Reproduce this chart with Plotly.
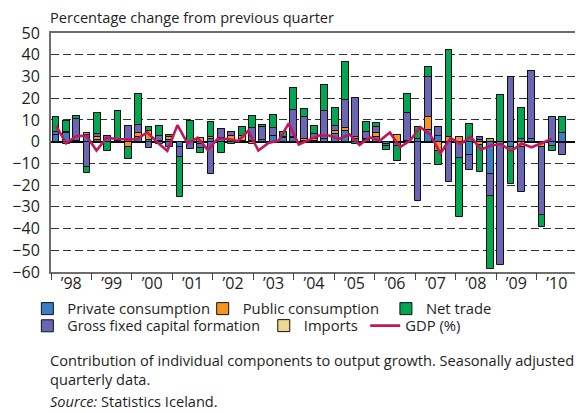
import plotly.graph_objects as go

# ---- data -------------------------------------------------------------
quarters = [f"{y}Q{q}" for y in range(1998, 2011) for q in range(1, 5)][:50]

private = [3.0, 3.8, 0.5, 3.2, 0.8, 0.0, 0.4, 0.0, 2.3, 0.8,
           -1.0, 0.6, -2.3, 0.0, -1.2, 1.0, 0.8, 0.9, 0.5, 0.4,
           0.6, 2.8, 1.7, 1.5, 0.5, 0.5, 1.2, 3.3, 5.0, 1.2,
           0.8, 2.0, -1.2, -0.5, 0.5, 1.2, 5.4, 2.5, 0.0, 0.0,
           -6.2, 0.8, -14.9, 0.0, -2.3, 1.2, 1.2, -0.5, -2.0, 3.8]
public = [0.2, 0.7, 0.0, 0.8, 1.2, 0.0, 0.0, -2.3, 1.5, 4.1,
          0.5, 1.5, 0.0, 0.0, 1.7, 1.3, 1.0, 1.5, 2.3, -1.0,
          -0.3, 0.0, 0.3, 0.5, 0.8, 0.9, -0.8, 1.7, 1.5, 0.8,
          0.4, 2.0, 0.0, 3.2, 0.0, 0.0, 6.1, -4.1, 2.0, 2.3,
          0.0, -1.5, 1.2, 0.0, 0.0, -2.3, 0.0, -2.0, 0.0, -0.8]
gfcf = [1.2, -1.0, 9.9, -11.5, 1.5, 2.4, 0.0, 7.1, 4.0, -2.9,
        2.2, -2.6, -4.7, -3.3, -1.8, -14.9, 4.0, 1.9, 0.0, 5.8,
        6.2, 3.3, 0.3, 12.6, 10.2, 2.0, 13.1, 2.3, 12.6, 18.2,
        3.1, 2.9, -0.7, -1.5, 12.5, -27.2, 18.4, 4.1, -18.7, -7.5,
        -6.8, 1.2, -10.0, -56.7, 29.6, -21.0, 31.5, -31.3, 11.2, -5.3]
net_trade = [6.8, 5.0, 1.4, -3.1, 9.5, -4.1, 13.7, -5.7, 14.1, 1.8,
             4.7, 0.8, -18.6, 9.6, -2.2, 6.8, -5.2, -1.1, 3.8, 5.8,
             1.0, 6.3, 2.0, 10.1, 3.3, 3.8, 11.8, 8.1, 17.4, -1.0,
             4.6, 1.7, -2.0, -6.7, 8.7, 5.7, 4.6, -6.5, 40.2, -27.3,
             8.1, -12.6, -33.7, 21.5, -17.2, 14.3, 0.0, -5.6, -2.2, 7.4]
imports = [0.0, 0.0, 0.0, 0.0, 0.0, 0.0, 0.0, 0.0, 0.0, 0.0,
           0.0, 0.0, 0.0, 0.0, 0.0, 0.0, 0.0, 0.0, 0.0, 0.0,
           0.0, 0.0, 0.0, 0.0, 0.0, 0.0, 0.0, 0.0, 0.0, 0.0,
           0.0, 0.0, 0.0, 0.0, 0.0, 0.0, 0.0, 0.0, 0.0, 0.0,
           0.0, 0.0, 0.0, 0.0, 0.0, 0.0, 0.0, 0.0, 0.0, 0.0]
gdp = [7.4, -0.8, 2.6, 2.7, -4.1, 1.8, 1.2, 1.0, 1.0, 4.3,
       -0.3, -4.2, 7.6, -0.8, 1.8, -3.8, 1.4, 1.2, 0.3, 5.0,
       -4.1, -0.6, 0.5, 8.4, -1.3, 0.8, 2.8, 2.8, 1.2, 3.4,
       -1.6, 2.0, 0.4, 4.2, -2.6, 0.5, 6.7, 3.2, -5.4, 1.7,
       -1.1, 2.3, -3.7, -1.8, -1.1, -4.4, -0.8, -2.6, -0.6, 1.2]

years = list(range(1998, 2011))
year_labels = ["\u201998", "\u201999", "\u201900", "\u201901", "\u201902", "\u201903", "\u201904",
               "\u201905", "\u201906", "\u201907", "\u201908", "\u201909", "\u201910"]

# quarter midpoints on the year scale for the GDP line
gdp_x = [int(q[:4]) + (int(q[-1]) - 0.5) / 4 for q in quarters]

FONT = "Open Sans"
TXT = "#1e1e1e"

fig = go.Figure()

series = [
    ("Private consumption", private, "#3b7dc4", "legend"),
    ("Public consumption", public, "#f7941d", "legend2"),
    ("Gross fixed capital formation", gfcf, "#6b66b3", "legend4"),
    ("Net trade", net_trade, "#00a651", "legend3"),
    ("Imports", imports, "#ecd98f", "legend5"),
]
for name, vals, col, lg in series:
    fig.add_trace(go.Bar(
        x=quarters, y=vals, name=name, marker_color=col,
        marker_line=dict(color="#111111", width=1),
        width=0.66, legend=lg, xaxis="x", yaxis="y",
    ))

fig.add_trace(go.Scatter(
    x=gdp_x, y=gdp, name="GDP (%)", mode="lines",
    line=dict(color="#c2185b", width=2.6), legend="legend6",
    xaxis="x2", yaxis="y",
))

# plot area in window pixels: x 45..579, y 33..272 (page body has an 8px margin)
def legend_at(xpx, ypx, size=14.8):
    return dict(
        orientation="h", x=(xpx - 45) / 534, y=(272 - ypx) / 239,
        xanchor="left", yanchor="middle", bgcolor="rgba(0,0,0,0)",
        font=dict(family=FONT, size=size, color=TXT), borderwidth=0,
        itemclick=False,
    )

fig.update_layout(
    width=575, height=405,
    margin=dict(l=37, r=4, t=25, b=141),
    paper_bgcolor="white", plot_bgcolor="white",
    barmode="relative", bargap=0,
    font=dict(family=FONT, size=15, color=TXT),
    xaxis=dict(
        type="category", range=[-0.476, 50.38], showticklabels=False,
        ticks="", showgrid=False, zeroline=False,
        showline=True, linecolor="#6e6e6e", linewidth=1.5, mirror=True,
    ),
    xaxis2=dict(
        overlaying="x", anchor="y", side="bottom", range=[1998, 2011],
        tickmode="array", tickvals=[y + 0.5 for y in years], ticktext=year_labels,
        ticks="", showgrid=False, zeroline=False, showline=False,
        tickfont=dict(family=FONT, size=16, color=TXT),
        minor=dict(tick0=1998, dtick=1, ticks="outside", ticklen=7,
                   tickwidth=1.2, tickcolor="#444444", showgrid=False),
    ),
    yaxis=dict(
        range=[-60, 50], dtick=10, tick0=0, ticks="",
        showgrid=True, gridcolor="#333333", gridwidth=1.2, griddash="8px,4px",
        zeroline=True, zerolinecolor="#000000", zerolinewidth=1.5,
        showline=True, linecolor="#6e6e6e", linewidth=2, mirror=True,
        tickfont=dict(family=FONT, size=16, color=TXT), ticklabelstandoff=6,
    ),
    legend=legend_at(21, 309),
    legend2=legend_at(199, 309),
    legend3=legend_at(385, 309),
    legend4=legend_at(21, 326, 14.3),
    legend5=legend_at(261, 326),
    legend6=legend_at(364, 326),
    showlegend=True,
)

def note(text, ypx, xpx=42, size=14.6):
    fig.add_annotation(
        text=text, xref="paper", yref="paper",
        x=(xpx - 45) / 534, y=(272 - ypx) / 239,
        xanchor="left", yanchor="middle", showarrow=False,
        font=dict(family=FONT, size=size, color=TXT),
    )

note("Percentage change from previous quarter", 17, 42)
note("Contribution of individual components to output growth. Seasonally adjusted", 360)
note("quarterly data.", 379)
note("<i>Source:</i> Statistics Iceland.", 401)

fig.write_html("out.html")
